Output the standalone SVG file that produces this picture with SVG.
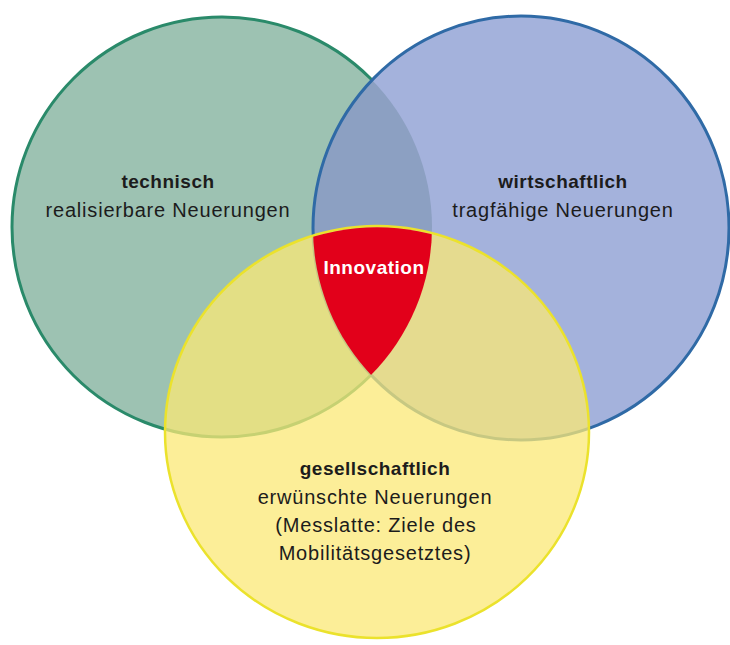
<svg xmlns="http://www.w3.org/2000/svg" width="730" height="645" viewBox="0 0 730 645">
<style>
  .t { font-family: "Liberation Sans", Arial, sans-serif; font-size: 20px; fill: #1c1c1c; text-anchor: middle; letter-spacing: 0.8px; }
  .b { font-weight: bold; font-size: 19px; letter-spacing: 0.5px; }
  .w { fill: #ffffff; }
</style>
<defs>
  <clipPath id="cg"><circle cx="222" cy="227" r="210"/></clipPath>
  <clipPath id="cb"><ellipse cx="521" cy="228" rx="208" ry="212"/></clipPath>
  <clipPath id="cy"><ellipse cx="377" cy="432" rx="210.8" ry="204.8"/></clipPath>
</defs>
<rect width="730" height="645" fill="#ffffff"/>

<g id="technisch">
  <circle cx="222" cy="227" r="210" fill="#9dc2b2" stroke="#2a8a6a" stroke-width="3"/>
  <text class="t b" x="168" y="188">technisch</text>
  <text class="t" x="168" y="217">realisierbare Neuerungen</text>
</g>

<g id="wirtschaftlich">
  <ellipse cx="521" cy="228" rx="208" ry="212" fill="#a4b2dc"/>
  <g clip-path="url(#cg)">
    <ellipse cx="521" cy="228" rx="208" ry="212" fill="#8ca0c2"/>
  </g>
  <ellipse cx="521" cy="228" rx="208" ry="212" fill="none" stroke="#2f6aa6" stroke-width="3"/>
  <text class="t b" x="563" y="188">wirtschaftlich</text>
  <text class="t" x="563" y="217">tragfähige Neuerungen</text>
</g>

<g id="gesellschaftlich">
  <ellipse cx="377" cy="432" rx="212" ry="206" fill="#fbe876" fill-opacity="0.75"/>
  <ellipse cx="377" cy="432" rx="212" ry="206" fill="none" stroke="#ebe22c" stroke-width="2.5"/>
  <text class="t b" x="375" y="475">gesellschaftlich</text>
  <text class="t" x="375" y="504">erwünschte Neuerungen</text>
  <text class="t" x="376" y="532">(Messlatte: Ziele des</text>
  <text class="t" x="375" y="560">Mobilitätsgesetztes)</text>
</g>

<g id="innovation">
  <g clip-path="url(#cg)">
    <g clip-path="url(#cb)">
      <g clip-path="url(#cy)">
        <rect x="300" y="220" width="150" height="170" fill="#e2001a"/>
      </g>
    </g>
  </g>
  <text class="t b w" x="374" y="274">Innovation</text>
</g>
</svg>
